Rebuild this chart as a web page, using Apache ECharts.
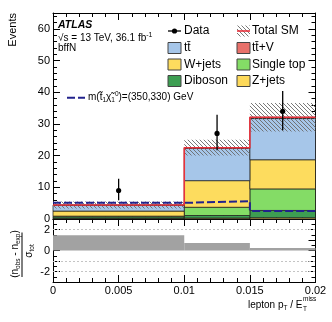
<!DOCTYPE html>
<html>
<head>
<meta charset="utf-8">
<script src="https://cdn.jsdelivr.net/npm/echarts@6/dist/echarts.min.js"></script>
<style>
html, body { margin: 0; padding: 0; background: #fff; }
#chart { width: 332px; height: 322px; }
</style>
</head>
<body>
<div id="chart"></div>
<script>
// bins of lepton pT / ETmiss
const binEdges = [0, 0.01, 0.015, 0.02]
// backgrounds per bin, stacked from the bottom up
const zJets = [0.2, 0.3, 0.4]
const diboson = [0.5, 0.8, 2.3]
const singleTop = [0.2, 2.6, 6.8]
const wJets = [1.6, 8.4, 9.2]
const ttbar = [1.8, 10.2, 13.0]
const ttV = [0.1, 0.2, 0.4]
// total SM uncertainty (+-)
const totalErr = [1.1, 2.5, 4.5]
// signal m(stop, neutralino) = (350,330)
const signal = [5.1, 5.6, 2.5]
// data with error bars
const dataX = [0.005, 0.0125, 0.0175]
const dataY = [9, 27, 34]
const dataLo = [5.9, 21.7, 28.0]
const dataHi = [12.7, 32.9, 40.4]
// lower panel
const pull = [1.45, 0.71, 0.23]
const pullGuides = [2, -1, -2]
const xTickLabels = ['0', '0.005', '0.01', '0.015', '0.02']

const FONT = 'Liberation Sans'
const TT = 't\u0074\u0304'

const layers = [
  { name: 'Z+jets', vals: zJets, color: '#fdd95a' },
  { name: 'Diboson', vals: diboson, color: '#3d9e52' },
  { name: 'Single top', vals: singleTop, color: '#84dc66' },
  { name: 'W+jets', vals: wJets, color: '#fddc5e' },
  { name: TT, vals: ttbar, color: '#a6c6e9' },
  { name: TT + '+V', vals: ttV, color: '#e8716b' }
]

// hatch pattern for the uncertainty band
function hatchCanvas (color) {
  const c = document.createElement('canvas')
  c.width = 4
  c.height = 4
  const g = c.getContext('2d')
  g.strokeStyle = color
  g.lineWidth = 0.9
  g.beginPath()
  g.moveTo(0, 0); g.lineTo(4, 4)
  g.moveTo(-2, 2); g.lineTo(2, 6)
  g.moveTo(2, -2); g.lineTo(6, 2)
  g.stroke()
  return c
}
const hatch = { image: hatchCanvas('#6a6a6a'), repeat: 'repeat' }

// step line through the bins
const stepPoints = (vals) => {
  const pts = []
  vals.forEach((v, i) => {
    pts.push([binEdges[i], v])
    pts.push([binEdges[i + 1], v])
  })
  return pts
}

// custom rect: value = [x0, x1, y0, y1]
const rectRender = (style) => (params, api) => {
  const a = api.coord([api.value(0), api.value(3)])
  const b = api.coord([api.value(1), api.value(2)])
  return {
    type: 'rect',
    shape: { x: a[0], y: a[1], width: b[0] - a[0], height: b[1] - a[1] },
    style: style
  }
}

const series = []
const base = [0, 0, 0]
layers.forEach(l => {
  const rows = l.vals.map((v, i) => [binEdges[i], binEdges[i + 1], base[i], base[i] + v])
  l.vals.forEach((v, i) => { base[i] += v })
  series.push({
    type: 'custom', xAxisIndex: 0, yAxisIndex: 0,
    renderItem: rectRender({ fill: l.color, stroke: 'rgba(30,30,30,0.75)', lineWidth: 1 }),
    encode: { x: [0, 1], y: [2, 3] },
    data: rows, z: 2
  })
})
const total = base.slice()

// uncertainty band
series.push({
  type: 'custom', xAxisIndex: 0, yAxisIndex: 0,
  renderItem: rectRender({ fill: hatch }),
  encode: { x: [0, 1], y: [2, 3] },
  data: total.map((t, i) => [binEdges[i], binEdges[i + 1], t - totalErr[i], t + totalErr[i]]),
  z: 3
})

// total SM line
series.push({
  type: 'line', xAxisIndex: 0, yAxisIndex: 0,
  data: stepPoints(total), symbol: 'none',
  lineStyle: { color: '#e8323c', width: 1.6 }, z: 4
})

// signal
series.push({
  type: 'line', xAxisIndex: 0, yAxisIndex: 0,
  data: stepPoints(signal), symbol: 'none',
  lineStyle: { color: '#22228c', width: 2, type: [8, 3] }, z: 5
})

// data points with error bars
series.push({
  type: 'custom', xAxisIndex: 0, yAxisIndex: 0,
  renderItem: (params, api) => {
    const lo = api.coord([api.value(0), api.value(2)])
    const hi = api.coord([api.value(0), api.value(3)])
    const c = api.coord([api.value(0), api.value(1)])
    return {
      type: 'group',
      children: [
        { type: 'line', shape: { x1: lo[0], y1: lo[1], x2: hi[0], y2: hi[1] }, style: { stroke: '#000', lineWidth: 1.3 } },
        { type: 'circle', shape: { cx: c[0], cy: c[1], r: 2.6 }, style: { fill: '#000' } }
      ]
    }
  },
  encode: { x: 0, y: [1, 2, 3] },
  data: dataX.map((x, i) => [x, dataY[i], dataLo[i], dataHi[i]]),
  z: 6
})

// pull panel
series.push({
  type: 'custom', xAxisIndex: 2, yAxisIndex: 2,
  renderItem: rectRender({ fill: '#a2a2a2' }),
  encode: { x: [0, 1], y: [2, 3] },
  data: pull.map((p, i) => [binEdges[i], binEdges[i + 1], Math.min(0, p), Math.max(0, p)]),
  z: 2,
  markLine: {
    silent: true, symbol: 'none', label: { show: false },
    lineStyle: { color: '#c4c4c4', type: [2, 2], width: 1 },
    data: pullGuides.map(v => ({ yAxis: v }))
  }
})

const xAxisBase = (grid, pos, labels) => ({
  type: 'value', gridIndex: grid, position: pos,
  min: 0, max: 0.02, interval: 0.005,
  axisLine: { show: true, onZero: false, lineStyle: { color: '#000', width: 1 } },
  axisTick: { show: true, inside: true, length: 7, lineStyle: { color: '#000' } },
  minorTick: { show: true, splitNumber: 5, length: 4, lineStyle: { color: '#000' } },
  splitLine: { show: false },
  axisLabel: {
    show: labels, margin: 3, color: '#000', fontFamily: FONT, fontSize: 11,
    formatter: v => xTickLabels[Math.round(v / 0.005)]
  }
})

const yAxisBase = (grid, pos, labels, min, max, interval, minor, fmt) => ({
  type: 'value', gridIndex: grid, position: pos,
  min: min, max: max, interval: interval,
  axisLine: { show: true, onZero: false, lineStyle: { color: '#000', width: 1 } },
  axisTick: { show: true, inside: true, length: 7, lineStyle: { color: '#000' } },
  minorTick: { show: true, splitNumber: minor, length: 4, lineStyle: { color: '#000' } },
  splitLine: { show: false },
  axisLabel: { show: labels, margin: 3, color: '#000', fontFamily: FONT, fontSize: 11, formatter: fmt }
})

// legend
const leg = []
const col1 = 168, col2 = 237, rows = [31, 48, 64.5, 81]
const legText = (x, y, t) => ({
  type: 'text', x: x, y: y,
  style: { text: t, fill: '#000', font: '12px "' + FONT + '"', verticalAlign: 'middle' }
})
const legBox = (x, y, color) => ({
  type: 'rect', shape: { x: x, y: y - 5.5, width: 13, height: 11 },
  style: { fill: color, stroke: '#444', lineWidth: 1 }
})
leg.push({ type: 'line', shape: { x1: col1, y1: rows[0], x2: col1 + 13, y2: rows[0] }, style: { stroke: '#000', lineWidth: 1.3 } })
leg.push({ type: 'circle', shape: { cx: col1 + 6.5, cy: rows[0], r: 2.6 }, style: { fill: '#000' } })
leg.push(legText(col1 + 16, rows[0], 'Data'))
leg.push({ type: 'rect', shape: { x: col2, y: rows[0] - 5.5, width: 13, height: 11 }, style: { fill: hatch } })
leg.push({ type: 'line', shape: { x1: col2, y1: rows[0], x2: col2 + 13, y2: rows[0] }, style: { stroke: '#e8323c', lineWidth: 1.6 } })
leg.push(legText(col2 + 15, rows[0], 'Total SM'))
const legOrder = [[4, 5], [3, 2], [1, 0]]
legOrder.forEach((pair, r) => {
  leg.push(legBox(col1, rows[r + 1], layers[pair[0]].color))
  leg.push(legText(col1 + 16, rows[r + 1], layers[pair[0]].name))
  leg.push(legBox(col2, rows[r + 1], layers[pair[1]].color))
  leg.push(legText(col2 + 15, rows[r + 1], layers[pair[1]].name))
})

const graphics = leg.concat([
  { type: 'text', x: 58, y: 25, style: { text: 'ATLAS', fill: '#000', font: 'italic bold 10.5px "' + FONT + '"', verticalAlign: 'middle' } },
  {
    type: 'text', x: 58, y: 38,
    style: {
      text: '{a|\u221As = 13 TeV, 36.1 fb}{s|-1}', verticalAlign: 'middle',
      rich: {
        a: { fontFamily: FONT, fontSize: 10, fill: '#000', lineHeight: 12 },
        s: { fontFamily: FONT, fontSize: 7, fill: '#000', lineHeight: 12, verticalAlign: 'top' }
      }
    }
  },
  { type: 'text', x: 58, y: 48.5, style: { text: 'bffN', fill: '#000', font: '10px "' + FONT + '"', verticalAlign: 'middle' } },
  { type: 'line', shape: { x1: 67, y1: 97.7, x2: 85, y2: 97.7 }, style: { stroke: '#22228c', lineWidth: 2, lineDash: [8, 3] } },
  {
    type: 'text', x: 88, y: 97.7,
    style: {
      text: '{a|m(t\u0303}{s|1}{a|\u03C7\u0303}{s|1}{u|0}{a|)=(350,330) GeV}', verticalAlign: 'middle',
      rich: {
        a: { fontFamily: FONT, fontSize: 10, fill: '#000', lineHeight: 13 },
        s: { fontFamily: FONT, fontSize: 6.5, fill: '#000', lineHeight: 13, verticalAlign: 'bottom' },
        u: { fontFamily: FONT, fontSize: 6.5, fill: '#000', lineHeight: 13, verticalAlign: 'top' }
      }
    }
  },
  // y titles
  { type: 'text', x: 12.5, y: 13, rotation: Math.PI / 2, style: { text: 'Events', fill: '#000', font: '11px "' + FONT + '"', align: 'right', verticalAlign: 'middle' } },
  {
    type: 'text', x: 15, y: 254, rotation: Math.PI / 2,
    style: {
      text: '{a|(n}{s|obs}{a| - n}{s|exp}{a|)}', align: 'center', verticalAlign: 'middle',
      rich: {
        a: { fontFamily: FONT, fontSize: 10, fill: '#000', lineHeight: 13 },
        s: { fontFamily: FONT, fontSize: 6.5, fill: '#000', lineHeight: 13, verticalAlign: 'bottom' }
      }
    }
  },
  { type: 'line', shape: { x1: 22, y1: 232.5, x2: 22, y2: 277 }, style: { stroke: '#000', lineWidth: 1 } },
  {
    type: 'text', x: 29.5, y: 251, rotation: Math.PI / 2,
    style: {
      text: '{a|\u03C3}{s|tot}', align: 'center', verticalAlign: 'middle',
      rich: {
        a: { fontFamily: FONT, fontSize: 10, fill: '#000', lineHeight: 13 },
        s: { fontFamily: FONT, fontSize: 6.5, fill: '#000', lineHeight: 13, verticalAlign: 'bottom' }
      }
    }
  },
  // x title
  {
    type: 'text', x: 302.5, y: 305,
    style: {
      text: '{a|lepton p}{s|T}{a| / E}', align: 'right', verticalAlign: 'middle',
      rich: {
        a: { fontFamily: FONT, fontSize: 10, fill: '#000', lineHeight: 13 },
        s: { fontFamily: FONT, fontSize: 6.5, fill: '#000', lineHeight: 13, verticalAlign: 'bottom' }
      }
    }
  },
  { type: 'text', x: 303, y: 299.5, style: { text: 'miss', fill: '#000', font: '6.5px "' + FONT + '"', verticalAlign: 'middle' } },
  { type: 'text', x: 303, y: 309.5, style: { text: 'T', fill: '#000', font: '6.5px "' + FONT + '"', verticalAlign: 'middle' } }
])

const chart = echarts.init(document.getElementById('chart'), null, { renderer: 'canvas' })
chart.setOption({
  animation: false,
  backgroundColor: '#fff',
  textStyle: { fontFamily: FONT },
  grid: [
    { left: 53, right: 16.5, top: 13, height: 206 },
    { left: 53, right: 16.5, top: 219, height: 63 }
  ],
  xAxis: [
    xAxisBase(0, 'bottom', false),
    xAxisBase(0, 'top', false),
    xAxisBase(1, 'bottom', true),
    xAxisBase(1, 'top', false)
  ],
  yAxis: [
    yAxisBase(0, 'left', true, 0, 65, 10, 5, v => (v % 10 === 0 ? String(v) : '')),
    yAxisBase(0, 'right', false, 0, 65, 10, 5),
    yAxisBase(1, 'left', true, -3, 3, 1, 2, v => (v % 2 === 0 && Math.abs(v) < 3 ? String(v) : '')),
    yAxisBase(1, 'right', false, -3, 3, 1, 2)
  ],
  series: series,
  graphic: graphics
})
</script>
</body>
</html>
